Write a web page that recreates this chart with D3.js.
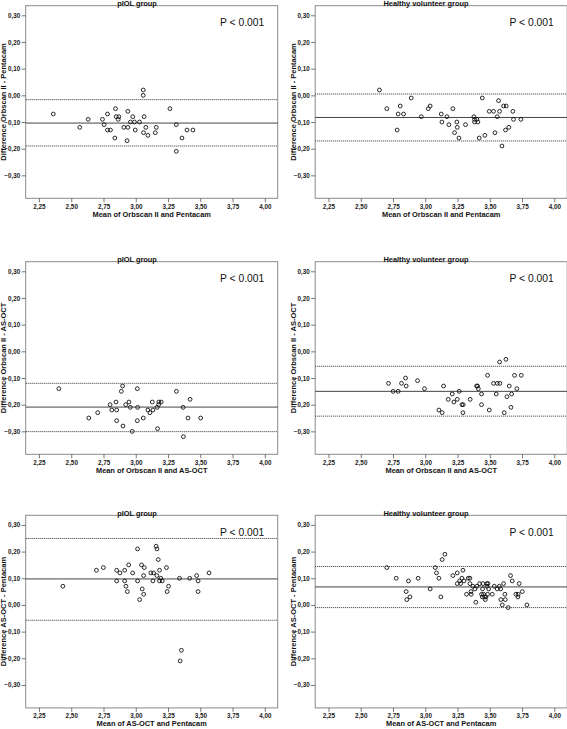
<!DOCTYPE html>
<html>
<head>
<meta charset="utf-8">
<script src="https://cdn.jsdelivr.net/npm/d3@7"></script>
<style>
  html, body { margin: 0; padding: 0; background: #fff; }
  svg { display: block; font-family: "Liberation Sans", Arial, sans-serif; }
</style>
</head>
<body>
<svg id="chart" width="567" height="729"></svg>
<script>
// ---------- DATA ----------
const xTickValues = [2.25, 2.50, 2.75, 3.00, 3.25, 3.50, 3.75, 4.00];
const yTickValues = [0.30, 0.20, 0.10, 0.00, -0.10, -0.20, -0.30];
const pValueText = "P < 0.001";

const titles = ["pIOL group", "Healthy volunteer group", "pIOL group", "Healthy volunteer group", "pIOL group", "Healthy volunteer group"];
const xLabels = ["Mean of Orbscan II and Pentacam", "Mean of Orbscan II and Pentacam", "Mean of Orbscan II and AS-OCT", "Mean of Orbscan II and AS-OCT", "Mean of AS-OCT and Pentacam", "Mean of AS-OCT and Pentacam"];
const yLabels = ["Difference Orbscan II - Pentacam", "Difference Orbscan II - Pentacam", "Difference Orbscan II - AS-OCT", "Difference Orbscan II - AS-OCT", "Difference AS-OCT - Pentacam", "Difference AS-OCT - Pentacam"];

// mean difference and limits of agreement per panel
const meanDiff   = [-0.104, -0.083, -0.209, -0.150, 0.0975, 0.0675];
const upperLimit = [-0.016,  0.005, -0.120, -0.056, 0.249,  0.144];
const lowerLimit = [-0.190, -0.171, -0.301, -0.243, -0.0575, -0.010];

// Panel 1: pIOL, Orbscan II vs Pentacam
const p1x = [2.361,2.566,2.631,2.742,2.755,2.781,2.781,2.804,2.843,2.838,2.848,2.869,2.864,2.939,2.908,2.939,2.933,2.959,2.977,2.990,2.996,3.029,3.058,3.058,3.065,3.060,3.078,3.094,3.151,3.159,3.265,3.314,3.314,3.358,3.397,3.443];
const p1y = [-0.07,-0.12,-0.09,-0.09,-0.11,-0.07,-0.13,-0.13,-0.05,-0.16,-0.08,-0.08,-0.09,-0.06,-0.12,-0.12,-0.17,-0.10,-0.08,-0.10,-0.13,-0.10,0.02,0.00,-0.08,-0.14,-0.12,-0.15,-0.14,-0.12,-0.05,-0.11,-0.21,-0.16,-0.13,-0.13];

// Panel 2: Healthy, Orbscan II vs Pentacam
const p2x = [2.645,2.702,2.806,2.790,2.832,2.782,2.891,2.969,3.023,3.038,3.124,3.129,3.168,3.183,3.214,3.227,3.245,3.248,3.261,3.312,3.377,3.382,3.382,3.400,3.408,3.418,3.442,3.462,3.496,3.529,3.540,3.558,3.568,3.576,3.594,3.607,3.627,3.622,3.648,3.679,3.684,3.741];
const p2y = [0.02,-0.05,-0.04,-0.07,-0.07,-0.13,-0.01,-0.08,-0.05,-0.04,-0.07,-0.10,-0.08,-0.11,-0.05,-0.14,-0.10,-0.12,-0.16,-0.11,-0.08,-0.10,-0.09,-0.09,-0.10,-0.16,-0.01,-0.15,-0.06,-0.06,-0.14,-0.08,-0.02,-0.06,-0.19,-0.04,-0.04,-0.13,-0.12,-0.06,-0.09,-0.09];

// Panel 3: pIOL, Orbscan II vs AS-OCT
const p3x = [2.404,2.636,2.705,2.801,2.814,2.847,2.852,2.852,2.888,2.898,2.901,2.922,2.947,2.958,2.973,3.012,3.014,3.012,3.058,3.094,3.110,3.128,3.133,3.166,3.169,3.177,3.179,3.197,3.315,3.367,3.369,3.405,3.421,3.503];
const p3y = [-0.14,-0.25,-0.23,-0.20,-0.22,-0.19,-0.22,-0.26,-0.15,-0.13,-0.28,-0.20,-0.19,-0.21,-0.30,-0.14,-0.21,-0.26,-0.25,-0.22,-0.23,-0.19,-0.22,-0.21,-0.29,-0.20,-0.19,-0.19,-0.15,-0.21,-0.32,-0.25,-0.18,-0.25];

// Panel 4: Healthy, Orbscan II vs AS-OCT
const p4x = [2.715,2.751,2.790,2.816,2.847,2.852,2.940,2.994,3.106,3.131,3.142,3.178,3.209,3.222,3.248,3.263,3.284,3.294,3.292,3.348,3.398,3.405,3.411,3.436,3.436,3.483,3.496,3.529,3.550,3.558,3.578,3.576,3.612,3.625,3.633,3.651,3.669,3.664,3.692,3.710,3.744];
const p4y = [-0.12,-0.15,-0.15,-0.12,-0.10,-0.13,-0.11,-0.14,-0.22,-0.23,-0.13,-0.18,-0.16,-0.19,-0.18,-0.15,-0.20,-0.20,-0.23,-0.18,-0.13,-0.13,-0.14,-0.16,-0.20,-0.09,-0.22,-0.12,-0.16,-0.12,-0.12,-0.04,-0.23,-0.03,-0.17,-0.13,-0.16,-0.21,-0.09,-0.14,-0.09];

// Panel 5: pIOL, AS-OCT vs Pentacam
const p5x = [2.435,2.695,2.749,2.852,2.852,2.877,2.914,2.914,2.924,2.935,2.945,2.976,3.014,3.014,3.030,3.045,3.050,3.066,3.061,3.061,3.117,3.138,3.133,3.158,3.164,3.164,3.174,3.184,3.184,3.194,3.205,3.238,3.243,3.254,3.339,3.344,3.354,3.418,3.472,3.483,3.483,3.568];
const p5y = [0.07,0.13,0.14,0.13,0.09,0.12,0.13,0.09,0.07,0.05,0.15,0.12,0.21,0.09,0.02,0.15,0.06,0.14,0.11,0.04,0.12,0.12,0.09,0.22,0.21,0.11,0.17,0.09,0.13,0.10,0.09,0.14,0.05,0.07,0.10,-0.21,-0.17,0.10,0.11,0.09,0.05,0.12];

// Panel 6: Healthy, AS-OCT vs Pentacam
const p6x = [2.702,2.775,2.852,2.857,2.870,2.881,2.945,3.038,3.077,3.087,3.106,3.121,3.131,3.152,3.214,3.248,3.248,3.266,3.274,3.284,3.292,3.300,3.320,3.333,3.346,3.346,3.354,3.356,3.369,3.385,3.392,3.400,3.421,3.436,3.442,3.444,3.447,3.452,3.460,3.465,3.470,3.478,3.478,3.483,3.486,3.491,3.519,3.535,3.558,3.574,3.584,3.586,3.597,3.607,3.617,3.620,3.643,3.661,3.674,3.702,3.718,3.720,3.728,3.752,3.788];
const p6y = [0.14,0.10,0.05,0.02,0.09,0.03,0.10,0.06,0.14,0.12,0.10,0.03,0.17,0.19,0.11,0.12,0.08,0.09,0.08,0.10,0.13,0.09,0.04,0.10,0.10,0.08,0.05,0.04,0.07,0.06,0.01,0.07,0.08,0.04,0.03,0.06,0.08,0.04,0.03,0.02,0.03,0.08,0.07,0.04,0.08,0.06,0.04,0.07,0.06,0.07,0.06,0.02,0.00,0.08,0.04,0.02,-0.01,0.11,0.09,0.04,0.03,0.04,0.08,0.05,0.00];

const panelXs = [p1x, p2x, p3x, p4x, p5x, p6x];
const panelYs = [p1y, p2y, p3y, p4y, p5y, p6y];

// ---------- LAYOUT ----------
const colLeft = [25.7, 315.2];
const rowTop = [5.7, 261.7, 515.3];
const frameW = 252;
const frameH = 192.6;
const xDomain = [2.147, 4.1];
const yDomain = [-0.386, 0.336];

const fmt = d3.format(".2f");
const comma = v => fmt(v).replace(".", ",");

const svg = d3.select("#chart");

for (let i = 0; i < 6; i++) {
  const x0 = colLeft[i % 2];
  const y0 = rowTop[Math.floor(i / 2)];
  const xs = d3.scaleLinear().domain(xDomain).range([x0, x0 + frameW]);
  const ys = d3.scaleLinear().domain(yDomain).range([y0 + frameH, y0]);
  const g = svg.append("g");

  // frame
  g.append("rect")
    .attr("x", x0).attr("y", y0).attr("width", frameW).attr("height", frameH)
    .attr("fill", "none").attr("stroke", "#8a8a8a").attr("stroke-width", 1);

  // axes
  const yAxis = d3.axisLeft(ys).tickValues(yTickValues).tickFormat(comma).tickSize(4).tickPadding(1.5);
  const xAxis = d3.axisBottom(xs).tickValues(xTickValues).tickFormat(comma).tickSize(4).tickPadding(2);
  const ya = g.append("g").attr("transform", `translate(${x0},0)`).call(yAxis);
  const xa = g.append("g").attr("transform", `translate(0,${y0 + frameH})`).call(xAxis);
  [ya, xa].forEach(a => {
    a.select(".domain").remove();
    a.selectAll(".tick line").attr("stroke", "#555").attr("stroke-width", 0.8);
    a.selectAll(".tick text")
      .attr("fill", "#222").attr("font-size", 6.3).attr("font-weight", "bold")
      .attr("font-family", "'Liberation Sans', Arial, sans-serif");
  });

  // reference lines
  g.append("line")
    .attr("x1", x0).attr("x2", x0 + frameW)
    .attr("y1", ys(meanDiff[i])).attr("y2", ys(meanDiff[i]))
    .attr("stroke", "#444").attr("stroke-width", 1);
  [upperLimit[i], lowerLimit[i]].forEach(v => {
    g.append("line")
      .attr("x1", x0).attr("x2", x0 + frameW)
      .attr("y1", ys(v)).attr("y2", ys(v))
      .attr("stroke", "#333").attr("stroke-width", 1)
      .attr("stroke-dasharray", "1,1");
  });

  // points
  g.append("g").selectAll("circle")
    .data(d3.range(panelXs[i].length))
    .join("circle")
    .attr("cx", k => xs(panelXs[i][k]))
    .attr("cy", k => ys(panelYs[i][k]))
    .attr("r", 1.9)
    .attr("fill", "none").attr("stroke", "#111").attr("stroke-width", 0.9);

  // title
  g.append("text")
    .attr("x", (i % 2 === 0) ? 137 : 426)
    .attr("y", y0 + 0.3)
    .attr("text-anchor", "middle")
    .attr("font-size", 7.4).attr("font-weight", "bold").attr("fill", "#111")
    .text(titles[i]);

  // P value
  g.append("text")
    .attr("x", x0 + frameW - 13.5)
    .attr("y", y0 + 20.5)
    .attr("text-anchor", "end")
    .attr("font-size", 10.3).attr("fill", "#111")
    .text(pValueText);

  // x label
  g.append("text")
    .attr("x", x0 + frameW / 2)
    .attr("y", y0 + frameH + 18.3)
    .attr("text-anchor", "middle")
    .attr("font-size", 7.4).attr("font-weight", "bold").attr("fill", "#111")
    .text(xLabels[i]);

  // y label
  const cy = y0 + frameH / 2;
  const cx = x0 - 22.3;
  g.append("text")
    .attr("transform", `translate(${cx},${cy}) rotate(-90)`)
    .attr("dy", "0.35em")
    .attr("text-anchor", "middle")
    .attr("font-size", 7.5).attr("font-weight", "bold").attr("fill", "#111")
    .text(yLabels[i]);
}
</script>
</body>
</html>
